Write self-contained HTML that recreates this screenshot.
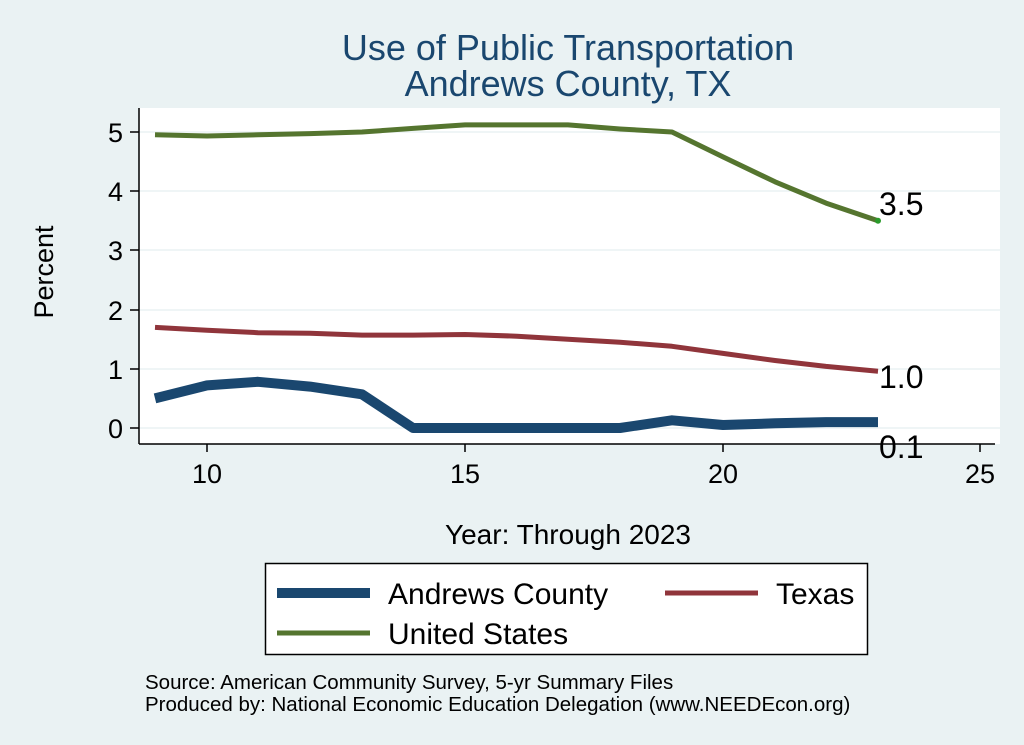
<!DOCTYPE html>
<html><head><meta charset="utf-8"><style>
body{margin:0;background:#eaf2f3;}
svg{display:block;font-family:"Liberation Sans",sans-serif;}
</style></head><body>
<svg width="1024" height="745" viewBox="0 0 1024 745">
<rect width="1024" height="745" fill="#eaf2f3"/>
<rect x="139" y="108" width="861" height="336" fill="#fff"/>
<g stroke="#eaf2f3" stroke-width="1.5">
<line x1="139" x2="1000" y1="428" y2="428"/><line x1="139" x2="1000" y1="369" y2="369"/>
<line x1="139" x2="1000" y1="310" y2="310"/><line x1="139" x2="1000" y1="250" y2="250"/>
<line x1="139" x2="1000" y1="191" y2="191"/><line x1="139" x2="1000" y1="132" y2="132"/>
</g>
<text x="568" y="60" font-size="36" fill="#1a476f" text-anchor="middle">Use of Public Transportation</text>
<text x="568" y="96" font-size="36" fill="#1a476f" text-anchor="middle">Andrews County, TX</text>
<g stroke="#000" stroke-width="1.5">
<line x1="139" y1="108" x2="139" y2="444"/>
<line x1="139" y1="444" x2="995" y2="444"/>
<line x1="130" x2="139" y1="428" y2="428"/><line x1="130" x2="139" y1="369" y2="369"/>
<line x1="130" x2="139" y1="310" y2="310"/><line x1="130" x2="139" y1="250" y2="250"/>
<line x1="130" x2="139" y1="191" y2="191"/><line x1="130" x2="139" y1="132" y2="132"/>
<line x1="207" x2="207" y1="444" y2="452"/><line x1="465" x2="465" y1="444" y2="452"/>
<line x1="723" x2="723" y1="444" y2="452"/><line x1="980" x2="980" y1="444" y2="452"/>
</g>
<g font-size="27" text-anchor="end">
<text x="123" y="438">0</text><text x="123" y="379">1</text><text x="123" y="320">2</text>
<text x="123" y="260">3</text><text x="123" y="201">4</text><text x="123" y="142">5</text>
</g>
<g font-size="27" text-anchor="middle">
<text x="207" y="483">10</text><text x="465" y="483">15</text><text x="723" y="483">20</text><text x="980" y="483">25</text>
</g>
<text x="568" y="544" font-size="28" text-anchor="middle">Year: Through 2023</text>
<text transform="translate(53,272) rotate(-90)" font-size="27" text-anchor="middle">Percent</text>
<polyline fill="none" stroke="#55752f" stroke-width="5" stroke-linejoin="round" points="155,134.8 207,136 258,134.8 310,133.6 362,132 413,128.4 465,124.9 517,124.9 568,124.9 620,129 672,132 723,156.9 775,181.8 826,203.1 878,220.8"/>
<circle cx="878" cy="220.8" r="3" fill="#2a9a2a"/>
<polyline fill="none" stroke="#90353b" stroke-width="5" stroke-linejoin="round" points="155,327.4 207,330.3 258,332.7 310,333.3 362,335.1 413,335.1 465,334.5 517,336.2 568,339.2 620,342.2 672,346.3 723,353.4 775,360.5 826,366.4 878,371.2"/>
<polyline fill="none" stroke="#1a476f" stroke-width="10" stroke-linejoin="round" points="155,398.4 207,385.4 258,381.8 310,386.6 362,394.3 413,428 465,428 517,428 568,428 620,428 672,420.3 723,425 775,423.3 826,422.1 878,422.1"/>
<g font-size="32"><text x="879" y="215">3.5</text><text x="879" y="388">1.0</text><text x="879" y="458">0.1</text></g>
<rect x="265.5" y="563.5" width="602" height="91" fill="#fff" stroke="#000" stroke-width="1.5"/>
<line x1="277" x2="370" y1="593" y2="593" stroke="#1a476f" stroke-width="10"/>
<text x="388" y="604" font-size="30">Andrews County</text>
<line x1="665" x2="758" y1="593" y2="593" stroke="#90353b" stroke-width="5"/>
<text x="776" y="604" font-size="30">Texas</text>
<line x1="277" x2="370" y1="633" y2="633" stroke="#55752f" stroke-width="5"/>
<text x="388" y="644" font-size="30">United States</text>
<text x="145" y="689" font-size="20.5">Source: American Community Survey, 5-yr Summary Files</text>
<text x="145" y="711" font-size="20.5">Produced by: National Economic Education Delegation (www.NEEDEcon.org)</text>
</svg>
</body></html>
